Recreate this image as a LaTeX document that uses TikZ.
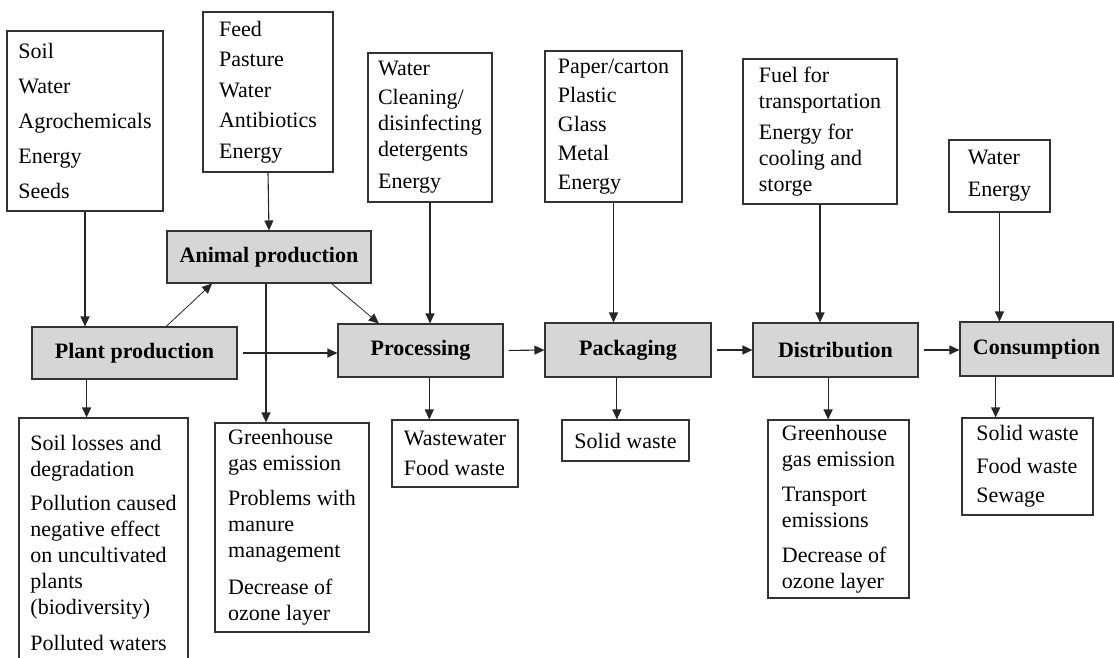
\documentclass[tikz,border=0pt]{standalone}
\usepackage{fontspec}
\setmainfont{Liberation Serif}
\usetikzlibrary{arrows.meta}

\tikzset{
  listbox/.style={draw=black!80, line width=1.1pt, fill=white, align=left, inner sep=2pt, font=\fontsize{22}{26}\selectfont},
  stagebox/.style={draw=black!80, line width=1.1pt, fill=black!16, inner sep=2pt, font=\fontsize{22}{26}\selectfont\bfseries},
  flow/.style={-{Triangle[length=10pt,width=9pt]}, line width=1.1pt, draw=black!85}
}

\begin{document}
\begin{tikzpicture}[x=1pt,y=-1pt]
\useasboundingbox (0,0) rectangle (1114,657);
\clip (0,0) rectangle (1114,657);
% inputs
\node[listbox, minimum width=156, minimum height=180] (soil) at (85,121) {Soil\\[9pt]Water\\[9pt]Agrochemicals\\[9pt]Energy\\[9pt]Seeds};
\node[listbox, minimum width=130, minimum height=160] (feed) at (268,92) {Feed\\[4.5pt]Pasture\\[4.5pt]Water\\[4.5pt]Antibiotics\\[4.5pt]Energy};
\node[listbox, minimum width=124, minimum height=149] (procin) at (430,127.5) {Water\\[3pt]Cleaning/\\disinfecting\\detergents\\[6pt]Energy};
\node[listbox, minimum width=137, minimum height=151] (packin) at (613.5,126.5) {Paper/carton\\[3pt]Plastic\\[3pt]Glass\\[3pt]Metal\\[3pt]Energy};
\node[listbox, minimum width=154, minimum height=145] (distin) at (820,131.5) {Fuel for\\transportation\\[5pt]Energy for\\cooling and\\storge};
\node[listbox, minimum width=101, minimum height=72] (consin) at (999.5,176) {Water\\[6pt]Energy};
% stages
\node[stagebox, minimum width=204, minimum height=52] (animal) at (269,257) {Animal production};
\node[stagebox, minimum width=205, minimum height=52] (plant) at (134.5,353) {Plant production};
\node[stagebox, minimum width=165, minimum height=53] (proc) at (420.5,350.5) {Processing};
\node[stagebox, minimum width=166, minimum height=54] (pack) at (628,350) {Packaging};
\node[stagebox, minimum width=165, minimum height=54] (dist) at (835.5,350) {Distribution};
\node[stagebox, minimum width=153, minimum height=54] (cons) at (1036.5,349) {Consumption};
% outputs
\node[listbox, minimum width=169, minimum height=250] (plantout) at (103.5,543) {Soil losses and\\degradation\\[8pt]Pollution caused\\negative effect\\on uncultivated\\plants\\(biodiversity)\\[10pt]Polluted waters};
\node[listbox, minimum width=154, minimum height=209] (animalout) at (292,527.5) {Greenhouse\\gas emission\\[9pt]Problems with\\manure\\management\\[11pt]Decrease of\\ozone layer};
\node[listbox, minimum width=126, minimum height=67] (procout) at (455,453.5) {Wastewater\\[4pt]Food waste};
\node[listbox, minimum width=127, minimum height=41] (packout) at (625.5,440.5) {Solid waste};
\node[listbox, minimum width=141, minimum height=178] (distout) at (838.5,509) {Greenhouse\\gas emission\\[9pt]Transport\\emissions\\[9pt]Decrease of\\ozone layer};
\node[listbox, minimum width=131, minimum height=97] (consout) at (1027.5,466.5) {Solid waste\\[7pt]Food waste\\[3pt]Sewage};
% inputs into stages
\draw[flow] (soil.south) -- (soil.south |- plant.north);
\draw[flow] (feed.south) -- (animal.north);
\draw[flow] (procin.south) -- (procin.south |- proc.north);
\draw[flow] (packin.south) -- (packin.south |- pack.north);
\draw[flow] (distin.south) -- (distin.south |- dist.north);
\draw[flow] (consin.south) -- (consin.south |- cons.north);
% chain
\draw[flow, line width=0.8pt] (plant.40) -- (animal.205);
\draw[flow, line width=0.8pt] (animal.-23) -- (proc.147);
\draw[flow, shorten <=5pt] (plant.east) -- (plant.east -| proc.west);
\draw[flow, shorten <=5pt] (proc.east) -- (pack.west);
\draw[flow, shorten <=5pt] (pack.east) -- (dist.west);
\draw[flow, shorten <=5pt] (dist.east) -- (dist.east -| cons.west);
% outputs
\draw[flow] (plant.-151) -- (plant.-151 |- plantout.north);
\draw[flow] ([xshift=-3pt]animal.south) -- ([xshift=-3pt]animal.south |- animalout.north);
\draw[flow] (proc.-72) -- (proc.-72 |- procout.north);
\draw[flow] (pack.-112) -- (pack.-112 |- packout.north);
\draw[flow] (dist.-105) -- (dist.-105 |- distout.north);
\draw[flow] (cons.-146) -- (cons.-146 |- consout.north);
\end{tikzpicture}
\end{document}
